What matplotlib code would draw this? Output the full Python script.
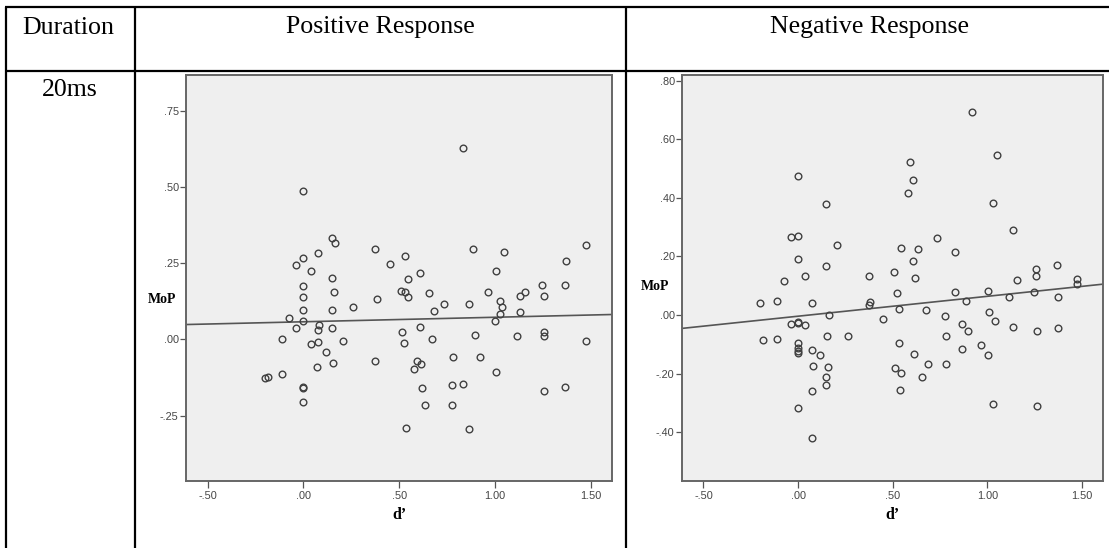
import matplotlib
matplotlib.use("Agg")
import matplotlib.pyplot as plt
from matplotlib.lines import Line2D
from matplotlib.ticker import FuncFormatter, FixedLocator
import numpy as np

# ---------------- data ----------------
col_headers = ["Duration", "Positive Response", "Negative Response"]
row_label = "20ms"
x_label = "d\u2019"
y_label = "MoP"

pos_d = [0.830, 0.000, 0.148, 0.162, 0.372, 0.887, 1.049, 0.530, 0.075, 0.000,
         -0.038, 0.450, 0.037, 1.005, 0.610, 0.148, 0.543, 0.000, 1.243, 0.158,
         0.508, 0.532, 0.543, 0.657, 0.962, 1.155, 1.132, 0.000, 0.383, 1.257,
         1.028, 0.732, 0.864, 0.261, 1.038, 0.000, 0.148, -0.073, 0.683, 1.028,
         1.132, 0.000, 1.000, -0.038, 0.082, 0.075, 0.150, 0.609, 0.515, 1.257,
         1.257, 0.897, 1.113, -0.111, 0.673, 0.075, 0.037, 0.523, 0.205, 0.115,
         0.372, 0.155, 0.591, 0.614, 0.577, 0.779, 0.920, 0.073, 1.005, -0.111,
         -0.200, -0.186, 0.000, 0.000, 0.619, 0.776, 0.830, 1.257, 0.000, 0.635,
         0.776, 0.536, 0.866, 1.473, 1.372, 1.365, 1.473, 1.365]
pos_mop = [0.628, 0.487, 0.334, 0.315, 0.295, 0.298, 0.286, 0.275, 0.283, 0.268,
           0.244, 0.246, 0.224, 0.223, 0.217, 0.201, 0.198, 0.174, 0.177, 0.156,
           0.158, 0.154, 0.139, 0.152, 0.155, 0.157, 0.141, 0.140, 0.134, 0.141,
           0.125, 0.115, 0.117, 0.108, 0.105, 0.095, 0.095, 0.071, 0.092, 0.084,
           0.091, 0.062, 0.062, 0.039, 0.046, 0.030, 0.037, 0.042, 0.024, 0.025,
           0.012, 0.014, 0.011, 0.000, 0.003, -0.007, -0.014, -0.012, -0.005, -0.042,
           -0.070, -0.077, -0.070, -0.081, -0.096, -0.059, -0.056, -0.091, -0.106, -0.114,
           -0.126, -0.123, -0.156, -0.160, -0.158, -0.150, -0.145, -0.170, -0.205, -0.215,
           -0.215, -0.291, -0.295, 0.310, 0.258, 0.180, -0.004, -0.157]

neg_d = [0.920, 1.048, 0.589, 0.000, 0.609, 0.579, 1.029, 0.148, 1.133, -0.039,
         0.000, 0.734, 0.206, 0.542, 0.635, 0.829, 0.000, 0.609, 1.367, 0.148,
         1.254, 0.507, 0.037, 1.256, 0.373, 0.617, 1.154, 1.474, -0.076, 1.474,
         0.829, 1.004, 1.245, 0.524, 1.115, 1.374, -0.199, -0.111, 0.074, 0.888,
         0.382, 0.373, 0.531, 0.674, 0.164, 0.776, 1.006, 0.449, 1.038, -0.039,
         0.000, 0.000, 0.037, 0.865, 0.897, 1.133, 1.259, 1.370, 0.155, 0.262,
         0.781, -0.186, -0.111, 0.000, 0.000, 0.000, 0.000, 0.533, 0.964, 0.074,
         0.867, 0.114, 0.614, 1.001, 0.081, 0.158, 0.514, 0.544, 0.686, 0.779,
         0.150, 0.148, 0.656, 0.536, 0.076, 0.000, 1.031, 1.259, 0.074]
neg_mop = [0.692, 0.548, 0.522, 0.476, 0.462, 0.418, 0.384, 0.379, 0.289, 0.267,
           0.269, 0.263, 0.238, 0.230, 0.226, 0.217, 0.193, 0.183, 0.170, 0.166,
           0.157, 0.146, 0.134, 0.133, 0.132, 0.128, 0.119, 0.122, 0.115, 0.106,
           0.080, 0.082, 0.079, 0.074, 0.060, 0.060, 0.040, 0.048, 0.040, 0.047,
           0.045, 0.034, 0.021, 0.016, 0.000, -0.003, 0.011, -0.013, -0.021, -0.032,
           -0.023, -0.026, -0.033, -0.032, -0.054, -0.041, -0.054, -0.043, -0.072, -0.071,
           -0.073, -0.087, -0.081, -0.097, -0.112, -0.122, -0.131, -0.097, -0.103, -0.119,
           -0.115, -0.137, -0.133, -0.138, -0.175, -0.178, -0.180, -0.198, -0.166, -0.166,
           -0.212, -0.238, -0.213, -0.255, -0.259, -0.316, -0.304, -0.312, -0.421]

# fit lines (intercept, slope)
pos_fit = (0.058, 0.0148)
neg_fit = (-0.004, 0.068)

x_ticks = [-0.5, 0.0, 0.5, 1.0, 1.5]
pos_y_ticks = [-0.25, 0.0, 0.25, 0.5, 0.75]
neg_y_ticks = [-0.4, -0.2, 0.0, 0.2, 0.4, 0.6, 0.8]
x_lim = (-0.613, 1.61)
pos_y_lim = (-0.464, 0.867)
neg_y_lim = (-0.567, 0.82)

# ---------------- figure ----------------
W, H = 1109, 548
fig = plt.figure(figsize=(W / 100, H / 100), dpi=100)
fig.patch.set_facecolor("white")


def fx(px):
    return px / W


def fy(py):
    return 1 - py / H


table_lw = 1.6
for (x0, y0, x1, y1) in [
    (5, 7.3, 1109, 7.3),
    (5, 70.7, 1109, 70.7),
    (5.7, 7.3, 5.7, 548),
    (135, 7.3, 135, 548),
    (625.7, 7.3, 625.7, 548),
]:
    fig.add_artist(Line2D([fx(x0), fx(x1)], [fy(y0), fy(y1)],
                          transform=fig.transFigure, color="black",
                          lw=table_lw, solid_capstyle="butt"))

serif = ["Liberation Serif", "DejaVu Serif"]
hsize = 18.6
fig.text(fx(68), fy(33.5), col_headers[0], family=serif, fontsize=hsize,
         ha="center", va="baseline")
fig.text(fx(380), fy(33.5), col_headers[1], family=serif, fontsize=hsize,
         ha="center", va="baseline")
fig.text(fx(869), fy(33.5), col_headers[2], family=serif, fontsize=hsize,
         ha="center", va="baseline")
fig.text(fx(70), fy(96.5), row_label, family=serif, fontsize=hsize,
         ha="center", va="baseline")


def fmt(v, pos):
    s = f"{v:.2f}"
    if s.startswith("0."):
        s = s[1:]
    elif s.startswith("-0."):
        s = "-" + s[2:]
    return s


tick_font = ["Liberation Sans Narrow", "Liberation Sans"]
frame_col = "#666666"
mark_col = "#404040"


def make_panel(rect, xs, ys, fit, yticks, ylim, ylab_pos):
    ax = fig.add_axes(rect)
    ax.set_facecolor("#EFEFEF")
    ax.plot(xs, ys, ls="none", marker="o", ms=4.8, mfc="none",
            mec=mark_col, mew=1.0, zorder=3)
    lx = np.array(x_lim)
    ax.plot(lx, fit[0] + fit[1] * lx, color="#555555", lw=1.2, zorder=2)
    ax.set_xlim(*x_lim)
    ax.set_ylim(*ylim)
    ax.xaxis.set_major_locator(FixedLocator(x_ticks))
    ax.yaxis.set_major_locator(FixedLocator(yticks))
    ax.xaxis.set_major_formatter(FuncFormatter(fmt))
    ax.yaxis.set_major_formatter(FuncFormatter(fmt))
    for sp in ax.spines.values():
        sp.set_color(frame_col)
        sp.set_linewidth(1.4)
    ax.tick_params(axis="x", length=5, width=0.9, color="#555555",
                   pad=2.5, labelsize=7.8, labelcolor="#444444")
    ax.tick_params(axis="y", length=4.5, width=0.9, color="#555555",
                   pad=0.8, labelsize=7.8, labelcolor="#444444")
    for lab in ax.get_xticklabels() + ax.get_yticklabels():
        lab.set_family(tick_font)
    ax.set_xlabel(x_label, family=serif, fontweight="bold", fontsize=11.5)
    ax.xaxis.set_label_coords(0.5, -0.084)
    ax.xaxis.label.set_va("center")
    ax.set_ylabel(y_label, family=serif, fontweight="bold", fontsize=10,
                  rotation=0, ha="center", va="center")
    ax.yaxis.set_label_coords(*ylab_pos)
    return ax


bottom = (H - 481) / H
height = (481 - 75) / H
make_panel([fx(186), bottom, (612 - 186) / W, height], pos_d, pos_mop,
           pos_fit, pos_y_ticks, pos_y_lim, (-0.056, 0.446))
make_panel([fx(682), bottom, (1103 - 682) / W, height], neg_d, neg_mop,
           neg_fit, neg_y_ticks, neg_y_lim, (-0.064, 0.48))

fig.savefig("out.png", dpi=100, facecolor="white")
